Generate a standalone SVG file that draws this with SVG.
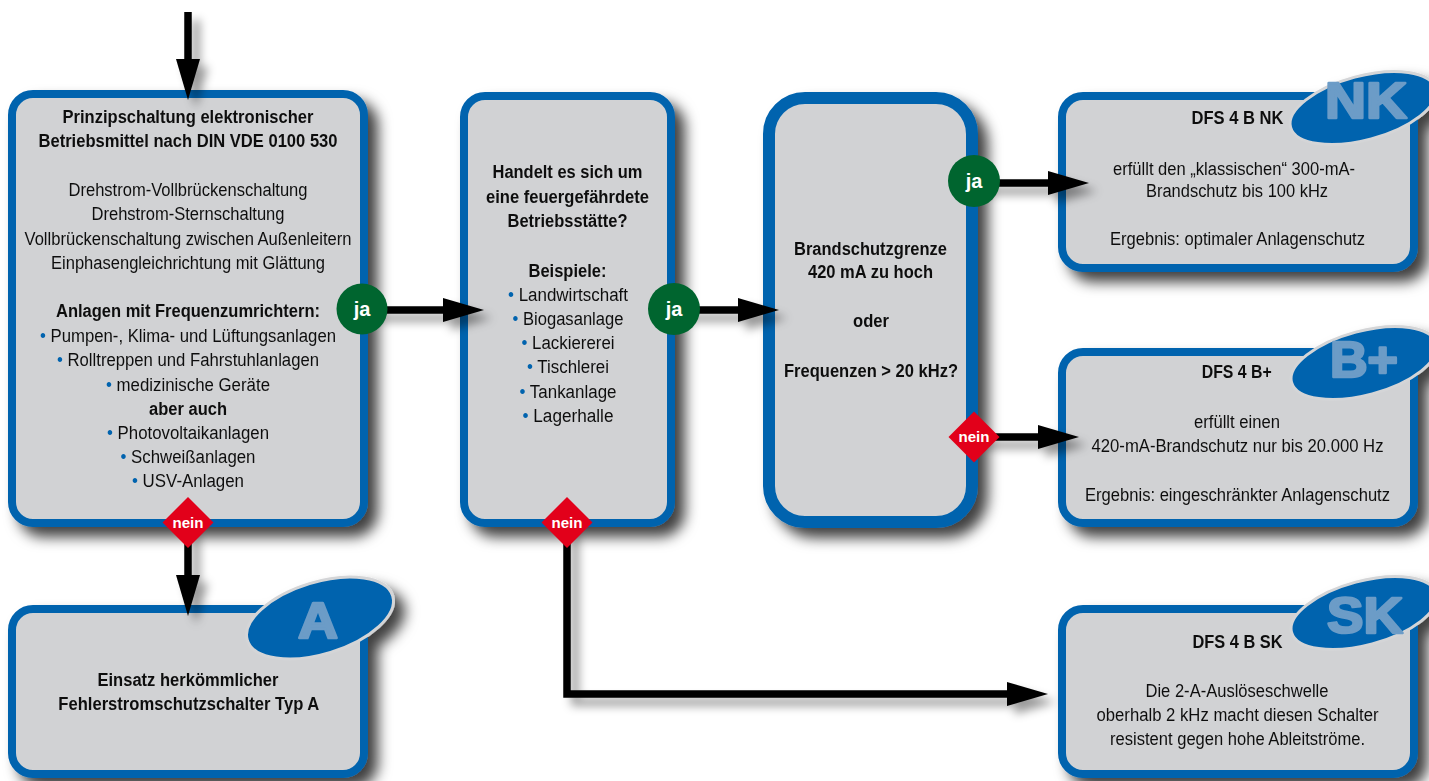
<svg xmlns="http://www.w3.org/2000/svg" width="1429" height="781" viewBox="0 0 1429 781">
<style>
.box{fill:#d1d2d4;stroke:#0063ae;stroke-width:8}
.box3{fill:#d1d2d4;stroke:#0063ae;stroke-width:12}
.ell{fill:#0063ae;stroke:#d4d5d7;stroke-width:3}
.big{font-family:"Liberation Sans",Arial,sans-serif;font-weight:bold;font-size:50px;fill:#6c9cc7;stroke:#6c9cc7;stroke-width:2.5;stroke-linejoin:round;text-anchor:middle}
.t{font-family:"Liberation Sans",Arial,sans-serif;font-size:18px;fill:#111;text-anchor:middle}
.b{font-weight:bold}
.dot{fill:#0063ae}
.con{fill:none;stroke:#000;stroke-width:7.5}
.ja{fill:#00652f}
.nein{fill:#e2001a}
.bt{font-family:"Liberation Sans",Arial,sans-serif;font-weight:bold;fill:#fff;text-anchor:middle}
</style>
<defs>
<filter id="sh" x="-10%" y="-10%" width="130%" height="130%">
<feDropShadow dx="10" dy="10" stdDeviation="7" flood-color="#000" flood-opacity="0.75"/>
</filter>
<filter id="csh" x="-20%" y="-20%" width="150%" height="150%">
<feDropShadow dx="8" dy="8" stdDeviation="5" flood-color="#000" flood-opacity="0.4"/>
</filter>
<marker id="ah" markerUnits="userSpaceOnUse" markerWidth="42" markerHeight="24" refX="1" refY="12" orient="auto" overflow="visible">
<path d="M0,0 L41,12 L0,24 z" fill="#000"/>
</marker>
</defs>
<rect width="1429" height="781" fill="#fff"/>

<g id="node-prinzip" filter="url(#sh)">
<rect class="box" x="12" y="94" width="352" height="429" rx="21"/>
<text class="t b" x="188" y="123" textLength="251" lengthAdjust="spacingAndGlyphs">Prinzipschaltung elektronischer</text>
<text class="t b" x="188" y="147" textLength="299" lengthAdjust="spacingAndGlyphs">Betriebsmittel nach DIN VDE 0100 530</text>
<text class="t" x="188" y="196" textLength="239" lengthAdjust="spacingAndGlyphs">Drehstrom-Vollbrückenschaltung</text>
<text class="t" x="188" y="220" textLength="193" lengthAdjust="spacingAndGlyphs">Drehstrom-Sternschaltung</text>
<text class="t" x="188" y="245" textLength="327" lengthAdjust="spacingAndGlyphs">Vollbrückenschaltung zwischen Außenleitern</text>
<text class="t" x="188" y="269" textLength="274" lengthAdjust="spacingAndGlyphs">Einphasengleichrichtung mit Glättung</text>
<text class="t b" x="188" y="317" textLength="264" lengthAdjust="spacingAndGlyphs">Anlagen mit Frequenzumrichtern:</text>
<text class="t" x="188" y="342" textLength="296" lengthAdjust="spacingAndGlyphs"><tspan class="dot">•</tspan> Pumpen-, Klima- und Lüftungsanlagen</text>
<text class="t" x="188" y="366" textLength="262" lengthAdjust="spacingAndGlyphs"><tspan class="dot">•</tspan> Rolltreppen und Fahrstuhlanlagen</text>
<text class="t" x="188" y="391" textLength="164" lengthAdjust="spacingAndGlyphs"><tspan class="dot">•</tspan> medizinische Geräte</text>
<text class="t b" x="188" y="415" textLength="78" lengthAdjust="spacingAndGlyphs">aber auch</text>
<text class="t" x="188" y="439" textLength="162" lengthAdjust="spacingAndGlyphs"><tspan class="dot">•</tspan> Photovoltaikanlagen</text>
<text class="t" x="188" y="463" textLength="135" lengthAdjust="spacingAndGlyphs"><tspan class="dot">•</tspan> Schweißanlagen</text>
<text class="t" x="188" y="487" textLength="112" lengthAdjust="spacingAndGlyphs"><tspan class="dot">•</tspan> USV-Anlagen</text>
</g>

<g id="node-feuer" filter="url(#sh)">
<rect class="box" x="464" y="96" width="207" height="427" rx="21"/>
<text class="t b" x="567.5" y="178" textLength="150" lengthAdjust="spacingAndGlyphs">Handelt es sich um</text>
<text class="t b" x="567.5" y="203" textLength="163" lengthAdjust="spacingAndGlyphs">eine feuergefährdete</text>
<text class="t b" x="567.5" y="227" textLength="120" lengthAdjust="spacingAndGlyphs">Betriebsstätte?</text>
<text class="t b" x="567.5" y="277" textLength="78" lengthAdjust="spacingAndGlyphs">Beispiele:</text>
<text class="t" x="568" y="301" textLength="120" lengthAdjust="spacingAndGlyphs"><tspan class="dot">•</tspan> Landwirtschaft</text>
<text class="t" x="568" y="325" textLength="111" lengthAdjust="spacingAndGlyphs"><tspan class="dot">•</tspan> Biogasanlage</text>
<text class="t" x="568" y="349" textLength="93" lengthAdjust="spacingAndGlyphs"><tspan class="dot">•</tspan> Lackiererei</text>
<text class="t" x="568" y="373" textLength="82" lengthAdjust="spacingAndGlyphs"><tspan class="dot">•</tspan> Tischlerei</text>
<text class="t" x="568" y="398" textLength="97" lengthAdjust="spacingAndGlyphs"><tspan class="dot">•</tspan> Tankanlage</text>
<text class="t" x="568" y="422" textLength="91" lengthAdjust="spacingAndGlyphs"><tspan class="dot">•</tspan> Lagerhalle</text>
</g>

<g id="node-brandschutz" filter="url(#sh)">
<rect class="box3" x="769" y="98" width="203" height="424" rx="36"/>
<text class="t b" x="870.5" y="255" textLength="153" lengthAdjust="spacingAndGlyphs">Brandschutzgrenze</text>
<text class="t b" x="870.5" y="278" textLength="125" lengthAdjust="spacingAndGlyphs">420 mA zu hoch</text>
<text class="t b" x="871" y="327" textLength="36" lengthAdjust="spacingAndGlyphs">oder</text>
<text class="t b" x="871" y="377" textLength="174" lengthAdjust="spacingAndGlyphs">Frequenzen &gt; 20 kHz?</text>
</g>

<g id="node-nk" filter="url(#sh)">
<rect class="box" x="1062" y="96" width="352" height="172" rx="21"/>
<ellipse class="ell" cx="1363" cy="108" rx="75" ry="32" transform="rotate(-15 1363 108)"/>
<text class="big" x="1366" y="118" textLength="82" lengthAdjust="spacingAndGlyphs">NK</text>
<text class="t b" x="1237.5" y="124" textLength="92" lengthAdjust="spacingAndGlyphs">DFS 4 B NK</text>
<text class="t" x="1234" y="175" textLength="242" lengthAdjust="spacingAndGlyphs">erfüllt den „klassischen“ 300-mA-</text>
<text class="t" x="1237" y="197" textLength="182" lengthAdjust="spacingAndGlyphs">Brandschutz bis 100 kHz</text>
<text class="t" x="1237.5" y="245" textLength="255" lengthAdjust="spacingAndGlyphs">Ergebnis: optimaler Anlagenschutz</text>
</g>

<g id="node-bplus" filter="url(#sh)">
<rect class="box" x="1062" y="352" width="352" height="171" rx="21"/>
<ellipse class="ell" cx="1364" cy="363" rx="75" ry="32" transform="rotate(-15 1364 363)"/>
<text class="big" x="1364" y="377" textLength="68" lengthAdjust="spacingAndGlyphs">B+</text>
<text class="t b" x="1236.7" y="378" textLength="70" lengthAdjust="spacingAndGlyphs">DFS 4 B+</text>
<text class="t" x="1237" y="428" textLength="86" lengthAdjust="spacingAndGlyphs">erfüllt einen</text>
<text class="t" x="1237.5" y="452" textLength="292" lengthAdjust="spacingAndGlyphs">420-mA-Brandschutz nur bis 20.000 Hz</text>
<text class="t" x="1237.5" y="501" textLength="305" lengthAdjust="spacingAndGlyphs">Ergebnis: eingeschränkter Anlagenschutz</text>
</g>

<g id="node-sk" filter="url(#sh)">
<rect class="box" x="1062" y="609" width="352" height="165" rx="21"/>
<ellipse class="ell" cx="1364" cy="613" rx="75" ry="32" transform="rotate(-15 1364 613)"/>
<text class="big" x="1365" y="633" textLength="76" lengthAdjust="spacingAndGlyphs">SK</text>
<text class="t b" x="1237.5" y="648" textLength="90" lengthAdjust="spacingAndGlyphs">DFS 4 B SK</text>
<text class="t" x="1237" y="697" textLength="183" lengthAdjust="spacingAndGlyphs">Die 2-A-Auslöseschwelle</text>
<text class="t" x="1237.5" y="721" textLength="282" lengthAdjust="spacingAndGlyphs">oberhalb 2 kHz macht diesen Schalter</text>
<text class="t" x="1237.5" y="745" textLength="255" lengthAdjust="spacingAndGlyphs">resistent gegen hohe Ableitströme.</text>
</g>

<g id="node-a" filter="url(#sh)">
<rect class="box" x="12" y="609" width="352" height="165" rx="21"/>
<ellipse class="ell" cx="320" cy="618" rx="76" ry="36" transform="rotate(-17 320 618)"/>
<text class="big" x="318" y="638" textLength="40" lengthAdjust="spacingAndGlyphs">A</text>
<text class="t b" x="188" y="686" textLength="181" lengthAdjust="spacingAndGlyphs">Einsatz herkömmlicher</text>
<text class="t b" x="188.8" y="710" textLength="261" lengthAdjust="spacingAndGlyphs">Fehlerstromschutzschalter Typ A</text>
</g>

<g id="connectors">
<g filter="url(#csh)">
<path class="con" d="M188,12 V60" marker-end="url(#ah)"/>
<path class="con" d="M362,310 H444" marker-end="url(#ah)"/>
<path class="con" d="M674,310 H739" marker-end="url(#ah)"/>
<path class="con" d="M974,183 H1049" marker-end="url(#ah)"/>
<path class="con" d="M974,437 H1039" marker-end="url(#ah)"/>
<path class="con" d="M188,523 V576" marker-end="url(#ah)"/>
<path class="con" d="M567,523 V694 H1008" marker-end="url(#ah)"/>
</g>
<g id="labels">
<circle class="ja" cx="362" cy="309" r="25.5"/>
<text class="bt" x="362" y="316" font-size="20">ja</text>
<circle class="ja" cx="674" cy="309" r="26"/>
<text class="bt" x="674" y="316" font-size="20">ja</text>
<circle class="ja" cx="974" cy="181" r="26"/>
<text class="bt" x="974" y="188" font-size="20">ja</text>
<path class="nein" d="M188,497 L213.5,522.5 L188,548 L162.5,522.5 z"/>
<text class="bt" x="188" y="527.5" font-size="15" textLength="31" lengthAdjust="spacingAndGlyphs">nein</text>
<path class="nein" d="M567,497 L592.5,522.5 L567,548 L541.5,522.5 z"/>
<text class="bt" x="567" y="527.5" font-size="15" textLength="31" lengthAdjust="spacingAndGlyphs">nein</text>
<path class="nein" d="M974,411.5 L999.5,437 L974,462.5 L948.5,437 z"/>
<text class="bt" x="974" y="442" font-size="15" textLength="31" lengthAdjust="spacingAndGlyphs">nein</text>
</g>
</g>
</svg>
